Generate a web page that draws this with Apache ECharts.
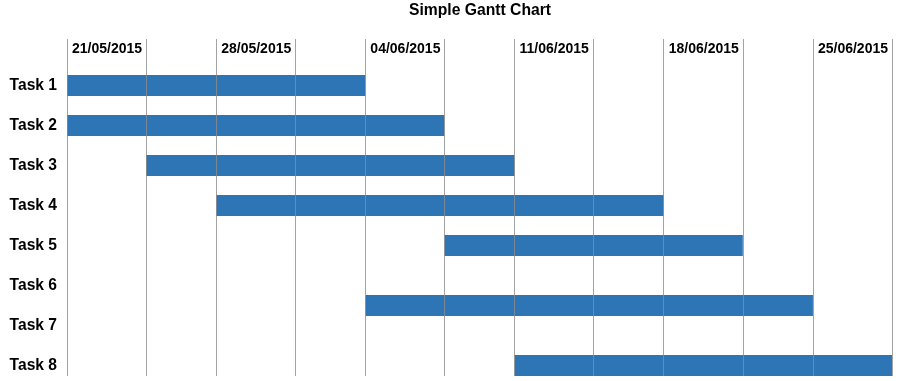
<!DOCTYPE html>
<html>
<head>
<meta charset="utf-8">
<script src="https://cdn.jsdelivr.net/npm/echarts@6/dist/echarts.min.js"></script>
<style>
  html, body { margin: 0; padding: 0; background: #ffffff; }
  #chart { width: 905px; height: 381px; }
</style>
</head>
<body>
<div id="chart"></div>
<script>
// ---- Data (days counted from 21/05/2015) ----
const chartTitle = 'Simple Gantt Chart';
const taskNames = ['Task 1', 'Task 2', 'Task 3', 'Task 4', 'Task 5', 'Task 6', 'Task 7', 'Task 8'];
const taskRows = [1, 2, 3, 4, 5, 6, 7, 8];
const dateLabels = ['21/05/2015', '28/05/2015', '04/06/2015', '11/06/2015', '18/06/2015', '25/06/2015'];
const labelDays = [0, 7, 14, 21, 28, 35];
const gridDays = [0, 3.71, 7, 10.71, 14, 17.71, 21, 24.71, 28, 31.71, 35, 38.71];
const barRows = [1, 2, 3, 4, 5, 6.5, 8];
const barStart = [0, 0, 3.71, 7, 17.71, 14, 21];
const barEnd = [14, 17.71, 21, 28, 31.71, 35, 38.71];

const FONT = '"Liberation Sans", Arial, sans-serif';
const barData = barRows.map((r, i) => [barStart[i], barEnd[i], r]);

const chart = echarts.init(document.getElementById('chart'), null, { renderer: 'canvas' });
chart.setOption({
  animation: false,
  backgroundColor: '#ffffff',
  title: {
    text: chartTitle,
    left: 409,
    top: 3,
    padding: 0,
    textStyle: { fontFamily: FONT, fontSize: 15.7, fontWeight: 'bold', color: '#000000' }
  },
  grid: { left: 67, right: 13, top: 39, bottom: 5, containLabel: false, outerBoundsMode: 'none' },
  xAxis: {
    type: 'value',
    position: 'top',
    min: 0,
    max: gridDays[gridDays.length - 1],
    z: 5,
    axisLine: { show: false },
    axisTick: { show: false, customValues: gridDays },
    splitLine: { show: true, lineStyle: { color: 'rgba(140,140,140,0.8)', width: 1 } },
    axisLabel: {
      customValues: labelDays,
      inside: true,
      margin: 10,
      align: 'left',
      verticalAlign: 'middle',
      padding: [0, 0, 0, 5],
      fontFamily: FONT,
      fontSize: 14,
      fontWeight: 'bold',
      color: '#000000',
      formatter: v => dateLabels[labelDays.indexOf(v)] || ''
    }
  },
  yAxis: {
    type: 'value',
    inverse: true,
    min: -0.1625,
    max: 8.2625,
    axisLine: { show: false },
    axisTick: { show: false },
    splitLine: { show: false },
    axisLabel: {
      customValues: taskRows,
      margin: 10,
      fontFamily: FONT,
      fontSize: 15.6,
      fontWeight: 'bold',
      color: '#000000',
      formatter: v => taskNames[taskRows.indexOf(v)] || ''
    }
  },
  series: [{
    type: 'custom',
    z: 2,
    encode: { x: [0, 1], y: 2 },
    data: barData,
    renderItem: function (params, api) {
      const row = api.value(2);
      const p0 = api.coord([api.value(0), row]);
      const p1 = api.coord([api.value(1), row]);
      const h = api.size([0, 1])[1] * 0.525;
      return {
        type: 'rect',
        shape: { x: p0[0], y: p0[1] - h / 2, width: p1[0] - p0[0], height: h },
        style: { fill: '#2e75b6' }
      };
    }
  }]
});
</script>
</body>
</html>
